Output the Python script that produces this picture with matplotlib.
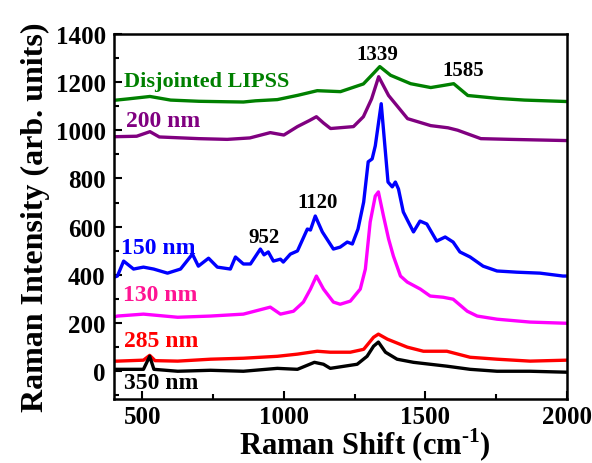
import matplotlib
matplotlib.use('Agg')
import matplotlib.pyplot as plt
from matplotlib.ticker import MultipleLocator

plt.rcParams['font.family'] = 'Liberation Serif'
plt.rcParams['font.weight'] = 'bold'
plt.rcParams['mathtext.fontset'] = 'custom'
plt.rcParams['mathtext.rm'] = 'Liberation Serif:bold'
plt.rcParams['mathtext.bf'] = 'Liberation Serif:bold'

# Disjointed LIPSS
x_lipss = [400, 450, 527, 600, 700, 800, 857, 900, 977, 1050, 1118, 1200, 1281, 1320, 1339,
           1377, 1448, 1519, 1560, 1600, 1650, 1756, 1850, 2000]
y_lipss = [1124, 1130, 1140, 1125, 1120, 1118, 1117, 1122, 1127, 1145, 1164, 1160, 1192, 1240, 1264,
           1228, 1193, 1177, 1185, 1193, 1144, 1132, 1125, 1119]

# 200 nm
x_200 = [400, 480, 527, 560, 700, 800, 880, 952, 1000, 1048, 1090, 1115, 1140, 1165, 1246,
         1281, 1310, 1335, 1370, 1437, 1519, 1580, 1614, 1696, 1800, 2000]
y_200 = [973, 975, 994, 972, 965, 962, 968, 990, 980, 1015, 1040, 1056, 1030, 1007, 1015,
         1056, 1130, 1222, 1144, 1048, 1019, 1010, 1000, 965, 962, 957]

# 150 nm
x_150 = [400, 412, 434, 469, 504, 540, 589, 635, 677, 698, 734, 765, 811, 829, 857, 882, 917,
         930, 945, 963, 988, 998, 1023, 1048, 1083, 1094, 1111, 1136, 1175, 1199, 1224, 1242,
         1262, 1282, 1298, 1312, 1323, 1344, 1368, 1383, 1394, 1405, 1422, 1440, 1458, 1481,
         1505, 1540, 1570, 1598, 1622, 1658, 1704, 1753, 1823, 1905, 1986, 2000]
y_150 = [390, 395, 457, 424, 432, 424, 407, 424, 486, 436, 469, 432, 424, 474, 445, 445, 507,
         483, 495, 457, 465, 453, 486, 499, 590, 586, 644, 578, 507, 515, 536, 528,
         590, 702, 869, 881, 935, 1110, 785, 765, 785, 756, 661, 619, 578, 623,
         611, 540, 557, 536, 495, 474, 436, 416, 411, 407, 395, 395]

# 130 nm
x_130 = [400, 412, 504, 625, 741, 857, 952, 988, 1034, 1069, 1094, 1115, 1140, 1175, 1199,
         1235, 1270, 1288, 1305, 1323, 1334, 1352, 1370, 1387, 1412, 1436, 1482, 1517, 1563,
         1598, 1648, 1683, 1753, 1870, 2000]
y_130 = [225, 229, 237, 224, 229, 237, 266, 237, 249, 287, 341, 395, 341, 287, 278,
         291, 341, 424, 619, 727, 744, 644, 549, 478, 395, 370, 341, 312, 307,
         299, 249, 229, 216, 204, 199]

# 285 nm
x_285 = [400, 412, 504, 526, 545, 625, 741, 857, 977, 1048, 1118, 1164, 1235, 1282, 1317,
         1334, 1366, 1436, 1493, 1576, 1658, 1753, 1870, 2000]
y_285 = [42, 42, 46, 66, 44, 42, 50, 54, 62, 71, 83, 79, 79, 91, 141,
         154, 133, 100, 83, 83, 58, 50, 42, 46]

# 350 nm
x_350 = [400, 412, 504, 526, 541, 625, 741, 857, 977, 1048, 1108, 1140, 1164, 1259, 1294,
         1317, 1334, 1359, 1400, 1458, 1576, 1658, 1753, 1870, 2000]
y_350 = [8, 8, 8, 62, 8, 0, 4, 0, 12, 8, 37, 29, 12, 29, 62,
         104, 121, 79, 50, 37, 21, 8, 0, 0, -4]

fig = plt.figure(figsize=(5.92, 4.64), dpi=100)
ax = fig.add_axes([0.1926, 0.138, 0.765, 0.787])

lw = 2.4
ax.plot(x_lipss, y_lipss, color='#008000', linewidth=lw)
ax.plot(x_200, y_200, color='#800080', linewidth=lw)
ax.plot(x_150, y_150, color='#0000ff', linewidth=lw)
ax.plot(x_130, y_130, color='#ff00ff', linewidth=lw)
ax.plot(x_285, y_285, color='#ff0000', linewidth=lw)
ax.plot(x_350, y_350, color='black', linewidth=lw)

# curve labels
ax.text(434, 1206, 'Disjointed LIPSS', color='#008000', fontsize=16, fontweight='bold', va='center')
ax.text(441, 1040, '200 nm', color='#800080', fontsize=17, fontweight='bold', va='center')
ax.text(423, 515, '150 nm', color='#0000ff', fontsize=17, fontweight='bold', va='center')
ax.text(430, 320, '130 nm', color='#ff1493', fontsize=17, fontweight='bold', va='center')
ax.text(434, 126, '285 nm', color='#ff0000', fontsize=17, fontweight='bold', va='center')
ax.text(434, -46, '350 nm', color='black', fontsize=17, fontweight='bold', va='center')

# peak labels
ax.text(1330, 1317, '1339', fontsize=15, fontweight='bold', ha='center', va='center')
ax.text(1633, 1248, '1585', fontsize=15, fontweight='bold', ha='center', va='center')
ax.text(1118, 702, '1120', fontsize=15, fontweight='bold', ha='center', va='center')
ax.text(931, 557, '952', fontsize=15, fontweight='bold', ha='center', va='center')

ax.set_xlim(400, 2000)
ax.set_ylim(-115, 1400)
ax.xaxis.set_major_locator(MultipleLocator(500))
ax.xaxis.set_minor_locator(MultipleLocator(250))
ax.yaxis.set_major_locator(MultipleLocator(200))
ax.yaxis.set_minor_locator(MultipleLocator(100))
ax.tick_params(which='both', direction='in', top=False, right=False, width=1.5)
ax.tick_params(which='major', length=6, labelsize=18, pad=6)
ax.tick_params(axis='x', which='major', pad=4)
ax.tick_params(which='minor', length=3.5)
for lab in ax.get_xticklabels() + ax.get_yticklabels():
    lab.set_fontweight('bold')
for sp in ax.spines.values():
    sp.set_linewidth(1.8)

ax.set_xlabel('Raman Shift (cm$^{\\text{-1}}$)', fontsize=22, fontweight='bold', va='baseline')
ax.xaxis.set_label_coords(0.555, -0.152)
ax.set_ylabel('Raman Intensity (arb. units)', fontsize=23, fontweight='bold', labelpad=4)

fig.savefig('out.png', dpi=100)
